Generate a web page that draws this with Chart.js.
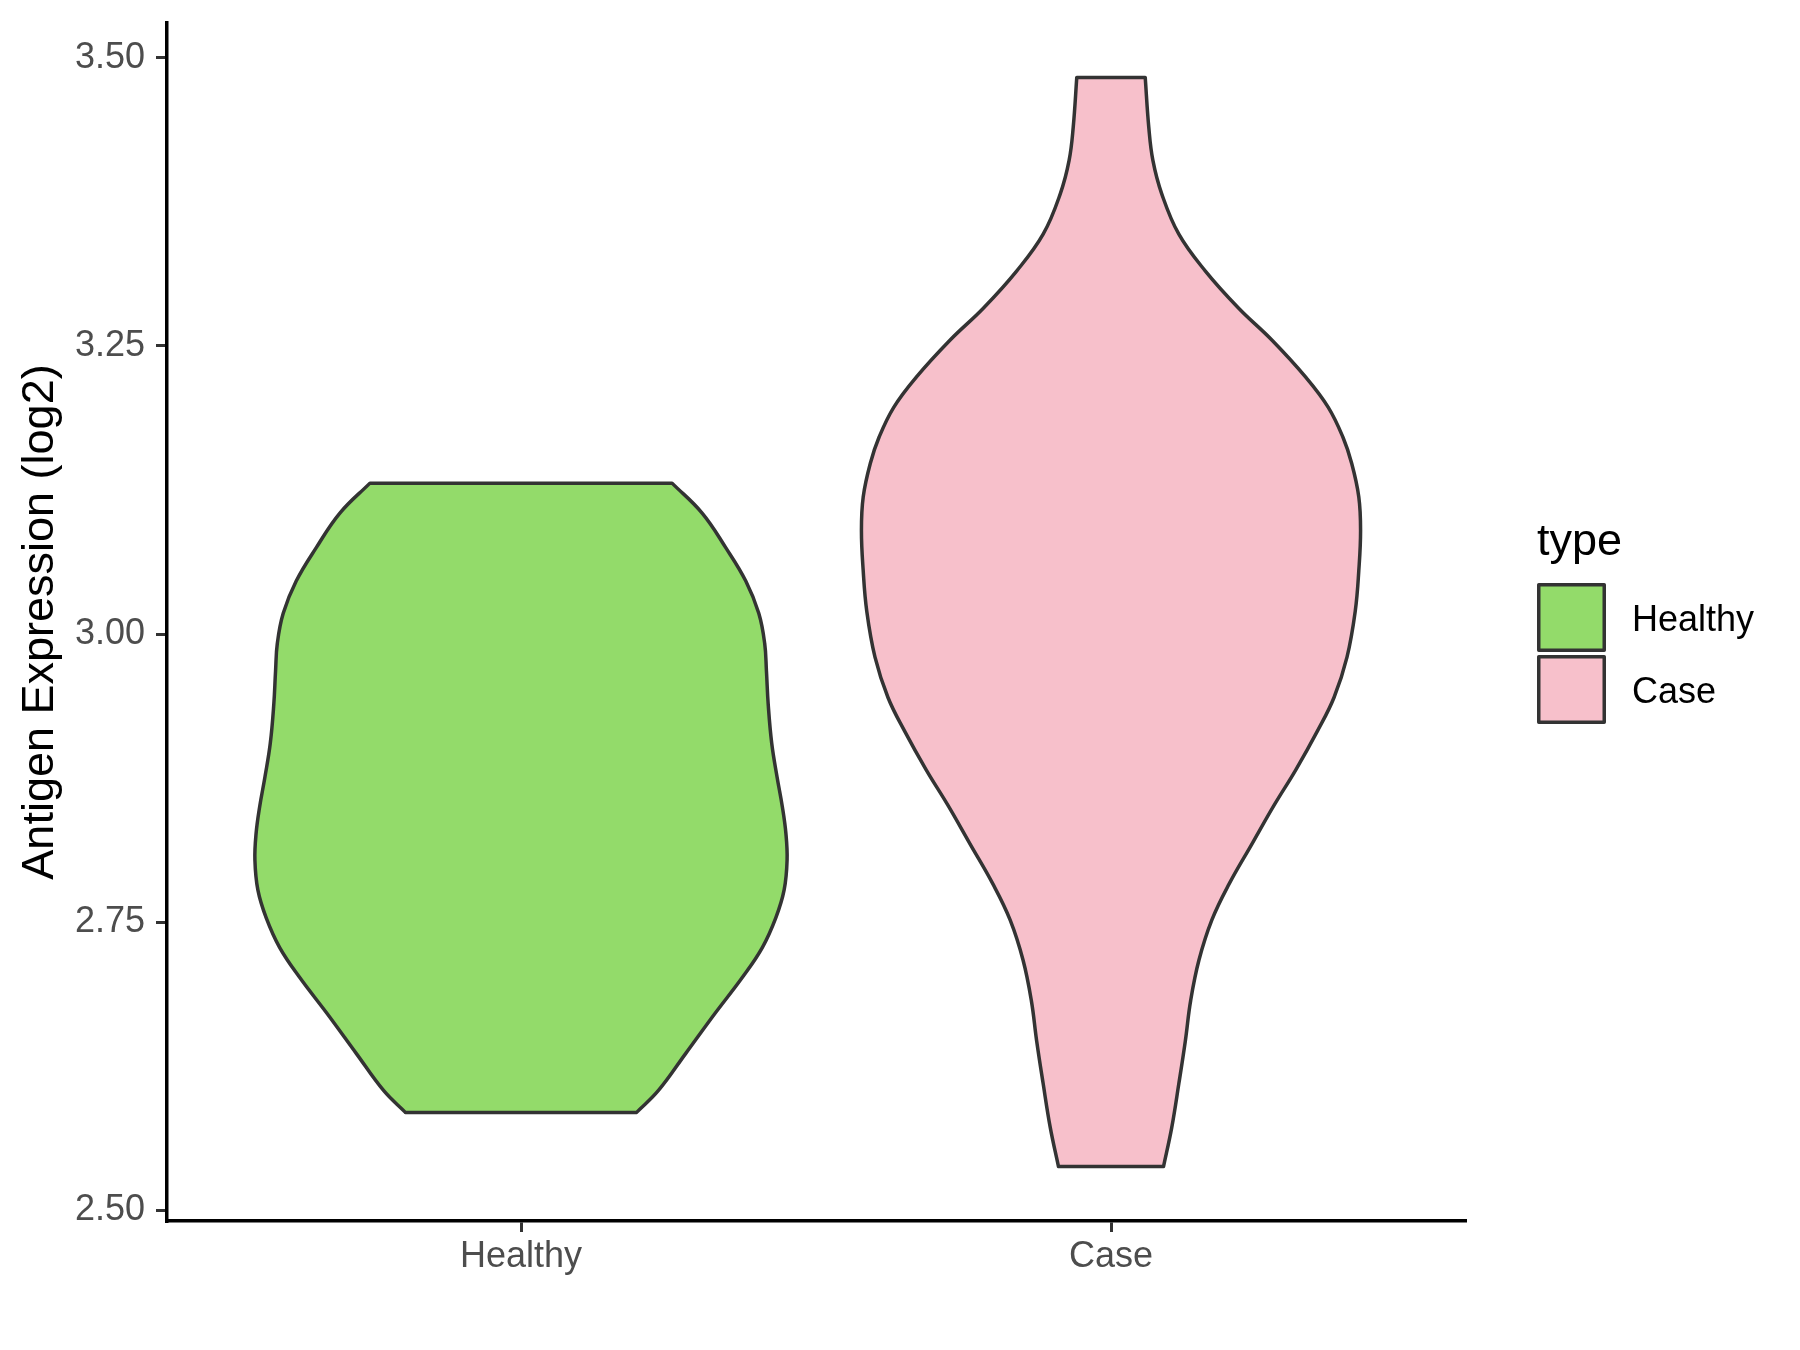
<!DOCTYPE html>
<html>
<head>
<meta charset="utf-8">
<script src="https://cdn.jsdelivr.net/npm/chart.js@4.4.1/dist/chart.umd.min.js"></script>
<style>
html, body { margin: 0; padding: 0; background: #ffffff; }
#wrap { width: 1800px; height: 1350px; position: relative; }
canvas { display: block; }
</style>
</head>
<body>
<div id="wrap"><canvas id="c" width="1800" height="1350"></canvas></div>
<script>
// ---------------- data ----------------
const categories = ['Healthy', 'Case'];
const legendTitle = 'type';
const yAxisTitle = 'Antigen Expression (log2)';
const yTickValues = [2.50, 2.75, 3.00, 3.25, 3.50];

// violin outlines: expression level (y) and half-width of the density at that level
const healthyY = [2.585, 2.604, 2.636, 2.671, 2.702, 2.728, 2.754, 2.778, 2.804, 2.827, 2.850, 2.876, 2.905, 2.939, 2.968, 2.992, 3.018, 3.046, 3.075, 3.105, 3.131];
const healthyHalfWidth = [0.196, 0.233, 0.279, 0.329, 0.375, 0.409, 0.432, 0.446, 0.451, 0.449, 0.443, 0.434, 0.425, 0.419, 0.416, 0.413, 0.403, 0.381, 0.347, 0.307, 0.256];

const caseY = [2.538, 2.572, 2.610, 2.647, 2.682, 2.717, 2.752, 2.783, 2.818, 2.852, 2.882, 2.916, 2.945, 2.980, 3.020, 3.055, 3.090, 3.119, 3.148, 3.171, 3.197, 3.223, 3.255, 3.283, 3.315, 3.347, 3.382, 3.411, 3.440, 3.483];
const caseHalfWidth = [0.089, 0.103, 0.115, 0.126, 0.135, 0.149, 0.171, 0.200, 0.239, 0.277, 0.313, 0.350, 0.378, 0.400, 0.414, 0.420, 0.423, 0.420, 0.408, 0.393, 0.368, 0.330, 0.273, 0.216, 0.160, 0.115, 0.086, 0.071, 0.064, 0.058];

const fillColors = ['#93DB6A', '#F7C0CB'];
const outlineColor = '#333333';

// ---------------- build ----------------
const FONT = "'Liberation Sans', Arial, Helvetica, sans-serif";
Chart.defaults.font.family = FONT;

function violinOutline(center, ys, ws) {
  const n = ys.length;
  const pts = [];
  for (let i = 0; i < n; i++) pts.push({ x: center - ws[i], y: ys[i] });
  pts.push({ x: center - ws[n - 1], y: ys[n - 1] });
  pts.push({ x: center + ws[n - 1], y: ys[n - 1] });
  for (let i = n - 1; i >= 0; i--) pts.push({ x: center + ws[i], y: ys[i] });
  pts.push({ x: center + ws[0], y: ys[0] });
  pts.push({ x: center - ws[0], y: ys[0] });
  pts.push({ x: center - ws[0], y: ys[0] });
  return pts;
}

const allY = healthyY.concat(caseY);
const yLo = Math.min(...allY), yHi = Math.max(...allY);
const yExp = (yHi - yLo) * 0.05;

const seriesY = [healthyY, caseY];
const seriesW = [healthyHalfWidth, caseHalfWidth];

const datasets = categories.map((name, k) => ({
  label: name,
  data: violinOutline(k + 1, seriesY[k], seriesW[k]),
  showLine: true,
  fill: 'shape',
  backgroundColor: fillColors[k],
  borderColor: outlineColor,
  borderWidth: 3.5,
  borderJoinStyle: 'round',
  borderCapStyle: 'round',
  pointRadius: 0,
  pointHoverRadius: 0,
  tension: 0.4
}));

const sideLegend = {
  id: 'sideLegend',
  afterDraw(chart) {
    const { ctx, chartArea } = chart;
    const x0 = chartArea.right + 72;
    const midY = (chartArea.top + chartArea.bottom) / 2;
    const box1Top = midY - 39;
    ctx.save();
    ctx.fillStyle = '#000000';
    ctx.font = '45px ' + FONT;
    ctx.textBaseline = 'alphabetic';
    ctx.textAlign = 'left';
    ctx.fillText(legendTitle, x0, box1Top - 28);
    categories.forEach((name, k) => {
      const top = box1Top + k * 72;
      ctx.fillStyle = fillColors[k];
      ctx.fillRect(x0 + 1.75, top + 1.75, 65.5, 65.5);
      ctx.strokeStyle = outlineColor;
      ctx.lineWidth = 3.5;
      ctx.lineJoin = 'round';
      ctx.strokeRect(x0 + 1.75, top + 1.75, 65.5, 65.5);
      ctx.fillStyle = '#000000';
      ctx.font = '36px ' + FONT;
      ctx.textBaseline = 'middle';
      ctx.fillText(name, x0 + 95, top + 38);
    });
    ctx.restore();
  }
};

function zeroPad(s) { s.paddingTop = 0; s.paddingBottom = 0; s.paddingLeft = 0; s.paddingRight = 0; }

new Chart(document.getElementById('c'), {
  type: 'line',
  data: { datasets },
  plugins: [sideLegend],
  options: {
    responsive: false,
    animation: false,
    devicePixelRatio: 1,
    layout: { padding: { top: 23, right: 335, left: 0, bottom: 0 } },
    plugins: { legend: { display: false }, tooltip: { enabled: false } },
    events: [],
    scales: {
      x: {
        type: 'linear',
        min: 0.4,
        max: 2.6,
        afterBuildTicks: (s) => { s.ticks = categories.map((c, i) => ({ value: i + 1 })); },
        afterFit: (s) => { s.height = 129; zeroPad(s); },
        grid: { display: true, drawOnChartArea: false, drawTicks: true, tickLength: 11, lineWidth: 3, color: '#333333' },
        border: { display: true, color: '#000000', width: 3.5 },
        ticks: {
          color: '#4D4D4D',
          font: { size: 36 },
          padding: 3,
          maxRotation: 0,
          autoSkip: false,
          callback: (v) => categories[Math.round(v) - 1] || ''
        }
      },
      y: {
        type: 'linear',
        min: yLo - yExp,
        max: yHi + yExp,
        afterBuildTicks: (s) => { s.ticks = yTickValues.map(v => ({ value: v })); },
        afterFit: (s) => { s.width = 167; zeroPad(s); },
        grid: { display: true, drawOnChartArea: false, drawTicks: true, tickLength: 11, lineWidth: 3, color: '#333333' },
        border: { display: true, color: '#000000', width: 3.5 },
        ticks: {
          color: '#4D4D4D',
          font: { size: 36 },
          padding: 11,
          autoSkip: false,
          callback: (v) => Number(v).toFixed(2)
        },
        title: {
          display: true,
          text: yAxisTitle,
          color: '#000000',
          font: { size: 45 },
          padding: { top: 14, bottom: 0 }
        }
      }
    }
  }
});
</script>
</body>
</html>
